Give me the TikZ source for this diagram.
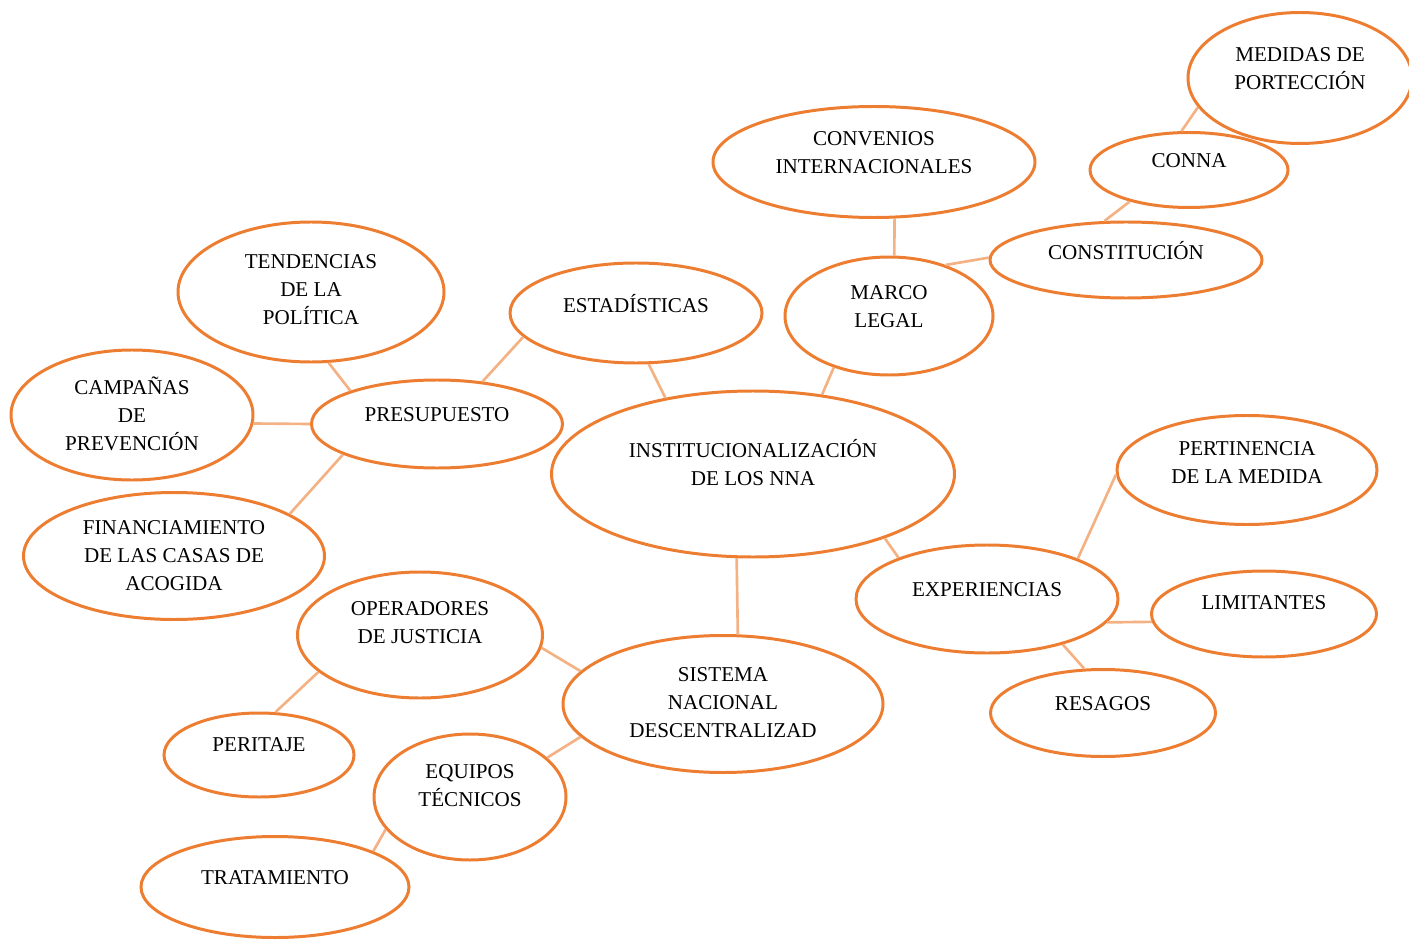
\documentclass[tikz,border=0pt]{standalone}
\usepackage{fontspec}
\setmainfont{Liberation Serif}
\usetikzlibrary{shapes.geometric}
\definecolor{bubbleline}{RGB}{237,125,49}
\definecolor{linkline}{RGB}{244,177,131}
\begin{document}
\begin{tikzpicture}[every node/.style = {font=\fontsize{12}{16}\selectfont}]
	\tikzset{ bubble/.style = {ellipse, draw = bubbleline, line width = 1.7pt, inner sep = 0pt} }
	\tikzset{ caption/.style = {align = center, yshift = #1}, caption/.default = 5.5pt }
	\tikzset{ link/.style = {draw = linkline, line width = 1.5pt} }
	\useasboundingbox (0,0) rectangle (28.18,-18.8);
	\node[bubble, minimum width=4.48cm, minimum height=2.62cm, label={[caption]center:{MEDIDAS DE\\PORTECCIÓN}}] (medidas) at (26.0,-1.56) {};
	\node[bubble, minimum width=3.96cm, minimum height=1.50cm, label={[caption]center:CONNA}] (conna) at (23.78,-3.40) {};
	\node[bubble, minimum width=5.44cm, minimum height=1.52cm, label={[caption]center:CONSTITUCIÓN}] (constitucion) at (22.52,-5.20) {};
	\node[bubble, minimum width=6.44cm, minimum height=2.22cm, label={[caption]center:{CONVENIOS\\INTERNACIONALES}}] (convenios) at (17.48,-3.24) {};
	\node[bubble, minimum width=4.16cm, minimum height=2.36cm, label={[caption]center:{MARCO\\LEGAL}}] (marco) at (17.78,-6.32) {};
	\node[bubble, minimum width=5.04cm, minimum height=2.00cm, label={[caption]center:ESTADÍSTICAS}] (estadisticas) at (12.72,-6.26) {};
	\node[bubble, minimum width=5.32cm, minimum height=2.80cm, label={[caption=1.5pt]center:{TENDENCIAS\\DE LA\\POLÍTICA}}] (tendencias) at (6.22,-5.84) {};
	\node[bubble, minimum width=5.02cm, minimum height=1.76cm, label={[caption]center:PRESUPUESTO}] (presupuesto) at (8.74,-8.48) {};
	\node[bubble, minimum width=4.84cm, minimum height=2.60cm, label={[caption=0.5pt]center:{CAMPAÑAS\\DE\\PREVENCIÓN}}] (campanas) at (2.64,-8.30) {};
	\node[bubble, minimum width=6.02cm, minimum height=2.54cm, label={[caption=0pt]center:{FINANCIAMIENTO\\DE LAS CASAS DE\\ACOGIDA}}] (financiamiento) at (3.48,-11.12) {};
	\node[bubble, minimum width=8.06cm, minimum height=3.32cm, label={[caption=6.5pt]center:{INSTITUCIONALIZACIÓN\\DE LOS NNA}}] (central) at (15.06,-9.48) {};
	\node[bubble, minimum width=5.20cm, minimum height=2.18cm, label={[caption=4pt]center:{PERTINENCIA\\DE LA MEDIDA}}] (pertinencia) at (24.94,-9.40) {};
	\node[bubble, minimum width=5.24cm, minimum height=2.16cm, label={[caption]center:EXPERIENCIAS}] (experiencias) at (19.74,-11.98) {};
	\node[bubble, minimum width=4.50cm, minimum height=1.72cm, label={[caption=6.5pt]center:LIMITANTES}] (limitantes) at (25.28,-12.28) {};
	\node[bubble, minimum width=4.50cm, minimum height=1.74cm, label={[caption]center:RESAGOS}] (resagos) at (22.06,-14.26) {};
	\node[bubble, minimum width=4.90cm, minimum height=2.52cm, label={[caption=7pt]center:{OPERADORES\\DE JUSTICIA}}] (operadores) at (8.40,-12.70) {};
	\node[bubble, minimum width=6.40cm, minimum height=2.74cm, label={[caption=1pt]center:{SISTEMA\\NACIONAL\\DESCENTRALIZAD}}] (sistema) at (14.46,-14.08) {};
	\node[bubble, minimum width=3.80cm, minimum height=1.68cm, label={[caption=6pt]center:PERITAJE}] (peritaje) at (5.18,-15.10) {};
	\node[bubble, minimum width=3.84cm, minimum height=2.52cm, label={[caption=6.5pt]center:{EQUIPOS\\TÉCNICOS}}] (equipos) at (9.40,-15.94) {};
	\node[bubble, minimum width=5.36cm, minimum height=2.02cm, label={[caption]center:TRATAMIENTO}] (tratamiento) at (5.50,-17.74) {};
	\draw[link] (medidas.196) -- (conna.101);
	\draw[link] (conna.208) -- (constitucion.119);
	\draw[link] (constitucion.179) -- (marco.42);
	\draw[link] (convenios.290) -- (marco.85);
	\draw[link] (marco.223) -- (central.49);
	\draw[link] (estadisticas.284) -- (central.139);
	\draw[link] (estadisticas.192) -- (presupuesto.43);
	\draw[link] (tendencias.284) -- (presupuesto.159);
	\draw[link] (campanas.356) -- (presupuesto.180);
	\draw[link] (financiamiento.20) -- (presupuesto.198);
	\draw[link] (central.259) -- (sistema.78);
	\draw[link] (central.334) -- (experiencias.155);
	\draw[link] (experiencias.24) -- (pertinencia.182);
	\draw[link] (experiencias.349) -- (limitantes.184);
	\draw[link] (experiencias.329) -- (resagos.113);
	\draw[link] (operadores.354) -- (sistema.167);
	\draw[link] (operadores.200) -- (peritaje.69);
	\draw[link] (sistema.193) -- (equipos.27);
	\draw[link] (equipos.201) -- (tratamiento.20);
\end{tikzpicture}
\end{document}
